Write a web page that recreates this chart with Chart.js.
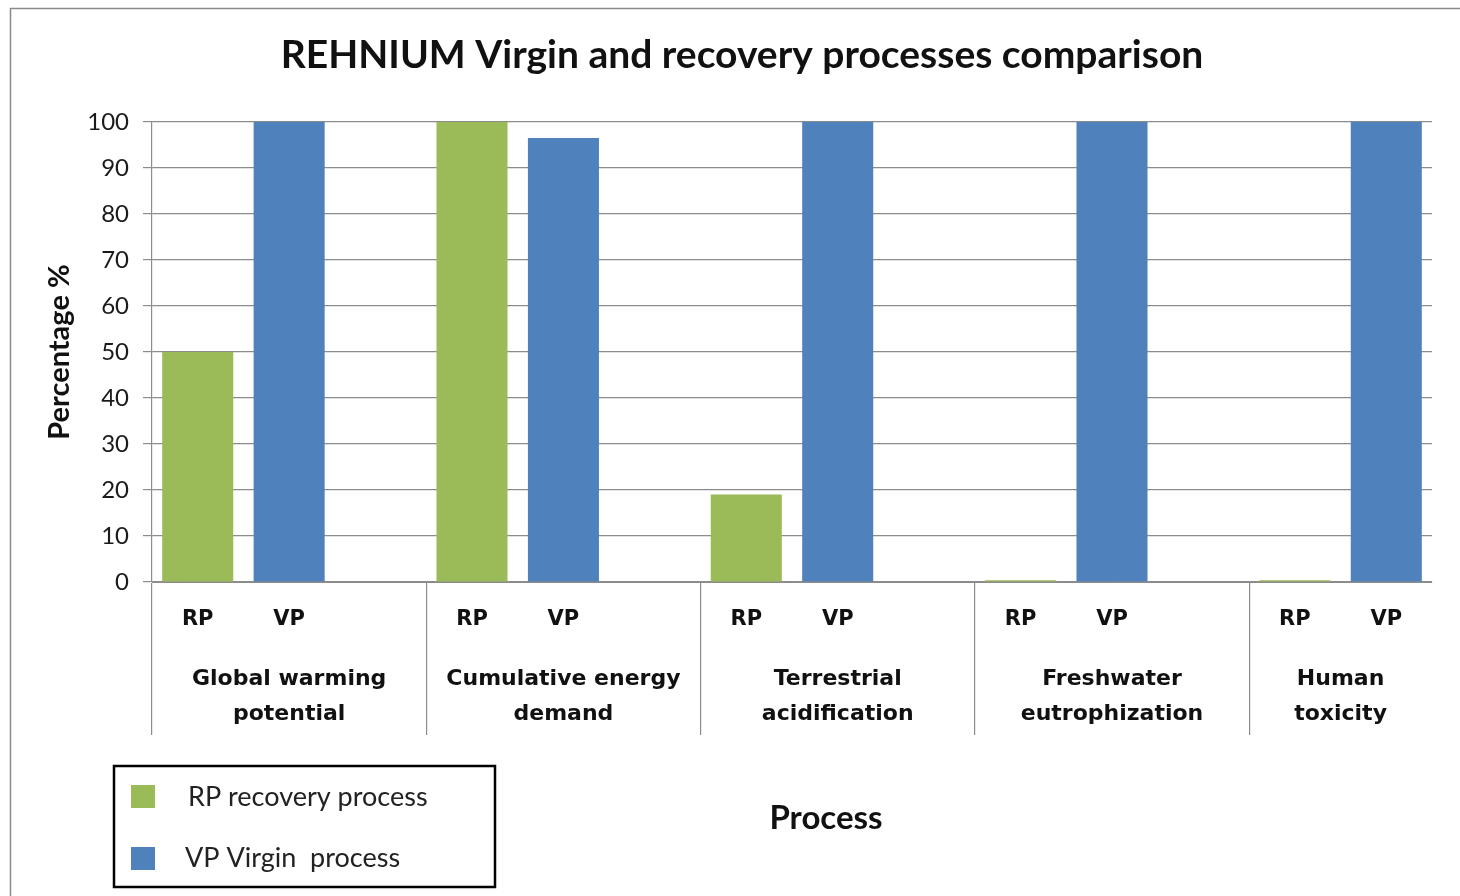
<!DOCTYPE html>
<html>
<head>
<meta charset="utf-8">
<script src="https://cdn.jsdelivr.net/npm/chart.js@4/dist/chart.umd.min.js"></script>
<style>
  html, body { margin: 0; padding: 0; background: #fff; }
  #wrap { width: 1460px; height: 896px; position: relative; }
</style>
</head>
<body>
<div id="wrap"><canvas id="chart"></canvas></div>
<script>
// values (percent)
const processes = [
    ['Global warming', 'potential'],
    ['Cumulative energy', 'demand'],
    ['Terrestrial', 'acidification'],
    ['Freshwater', 'eutrophization'],
    ['Human', 'toxicity']
];
const rpValues = [50, 100, 19, 0.4, 0.4];
const vpValues = [100, 96.5, 100, 100, 100];
const seriesNames = ['RP recovery process', 'VP Virgin  process'];
const yMin = 0, yMax = 100, yStep = 10;

const green = '#9bbb59';
const blue = '#4f81bd';
const axisGray = '#8c8c8c';

// each process gets RP, VP and a blank slot (the last one has no blank)
const slots = [];
const rpData = [];
const vpData = [];
const groups = [];
processes.forEach((p, i) => {
    const start = slots.length;
    slots.push('RP'); rpData.push(rpValues[i]); vpData.push(null);
    slots.push('VP'); rpData.push(null); vpData.push(vpValues[i]);
    groups.push({ name: p, first: start, last: start + 1 });
    if (i < processes.length - 1) {
        slots.push(''); rpData.push(null); vpData.push(null);
    }
});
// grid line indexes where the category separators sit
const boundaries = groups.map(g => g.first).concat([slots.length]);

const decorPlugin = {
    id: 'decor',
    beforeDraw(chart) {
        const ctx = chart.ctx;
        ctx.save();
        ctx.fillStyle = '#fff';
        ctx.fillRect(0, 0, chart.width, chart.height);
        ctx.strokeStyle = '#8a8a8a';
        ctx.lineWidth = 1.5;
        ctx.strokeRect(10.5, 8.5, chart.width + 20, chart.height + 20);
        ctx.restore();
    },
    afterDraw(chart) {
        const ctx = chart.ctx;
        const x = chart.scales.x;
        const area = chart.chartArea;
        ctx.save();
        ctx.fillStyle = '#111';
        ctx.textAlign = 'center';
        ctx.textBaseline = 'middle';

        // title
        ctx.font = 'bold 39px Lato';
        ctx.fillText('REHNIUM Virgin and recovery processes comparison', 742, 55);

        // y title
        ctx.save();
        ctx.translate(60, (area.top + area.bottom) / 2);
        ctx.rotate(-Math.PI / 2);
        ctx.font = 'bold 29px Lato';
        ctx.fillText('Percentage %', 0, 0);
        ctx.restore();

        // RP / VP labels under each bar
        ctx.font = 'bold 21px "DejaVu Sans"';
        slots.forEach((s, i) => {
            if (s) ctx.fillText(s, x.getPixelForValue(i), 620);
        });

        // process names
        ctx.font = 'bold 22px "DejaVu Sans"';
        groups.forEach(g => {
            const cx = (x.getPixelForValue(g.first) + x.getPixelForValue(g.last + (g.last + 1 < slots.length ? 1 : 0))) / 2;
            ctx.fillText(g.name[0], cx, 679);
            ctx.fillText(g.name[1], cx, 714);
        });

        // x title
        ctx.font = 'bold 33px Lato';
        ctx.fillText('Process', 826, 818);

        // legend box
        ctx.strokeStyle = '#000';
        ctx.lineWidth = 2.5;
        ctx.strokeRect(114, 766, 381, 121);
        ctx.textAlign = 'left';
        ctx.font = '27px Lato';
        ctx.fillStyle = green;
        ctx.fillRect(131, 785, 24, 23);
        ctx.fillStyle = blue;
        ctx.fillRect(131, 847, 24, 23);
        ctx.fillStyle = '#222';
        ctx.fillText(seriesNames[0], 188, 797);
        ctx.fillText(seriesNames[1], 185, 858);
        ctx.restore();
    }
};

new Chart(document.getElementById('chart'), {
    type: 'bar',
    data: {
        labels: slots,
        datasets: [
            { label: seriesNames[0], data: rpData, backgroundColor: green },
            { label: seriesNames[1], data: vpData, backgroundColor: blue }
        ]
    },
    options: {
        responsive: true,
        maintainAspectRatio: false,
        animation: false,
        events: [],
        layout: { padding: { left: 0, top: 122, right: 28, bottom: 161 } },
        datasets: { bar: { barPercentage: 0.777, categoryPercentage: 1 } },
        plugins: { legend: { display: false }, title: { display: false }, tooltip: { enabled: false } },
        scales: {
            x: {
                stacked: true,
                offset: true,
                ticks: { display: false },
                border: { display: true, color: axisGray, width: 1 },
                grid: {
                    offset: true,
                    drawOnChartArea: false,
                    tickLength: 153,
                    lineWidth: 1.2,
                    color: c => boundaries.includes(c.index) ? axisGray : 'rgba(0,0,0,0)'
                },
                afterFit: s => { s.height = 153; }
            },
            y: {
                stacked: true,
                min: yMin,
                max: yMax,
                ticks: {
                    stepSize: yStep,
                    padding: 14,
                    color: '#1a1a1a',
                    font: { family: 'Lato', size: 24 }
                },
                border: { display: true, color: axisGray, width: 1.2 },
                grid: { color: axisGray, lineWidth: 1.2, tickLength: 9 },
                afterFit: s => { s.width = 152; }
            }
        }
    },
    plugins: [decorPlugin]
});
</script>
</body>
</html>
